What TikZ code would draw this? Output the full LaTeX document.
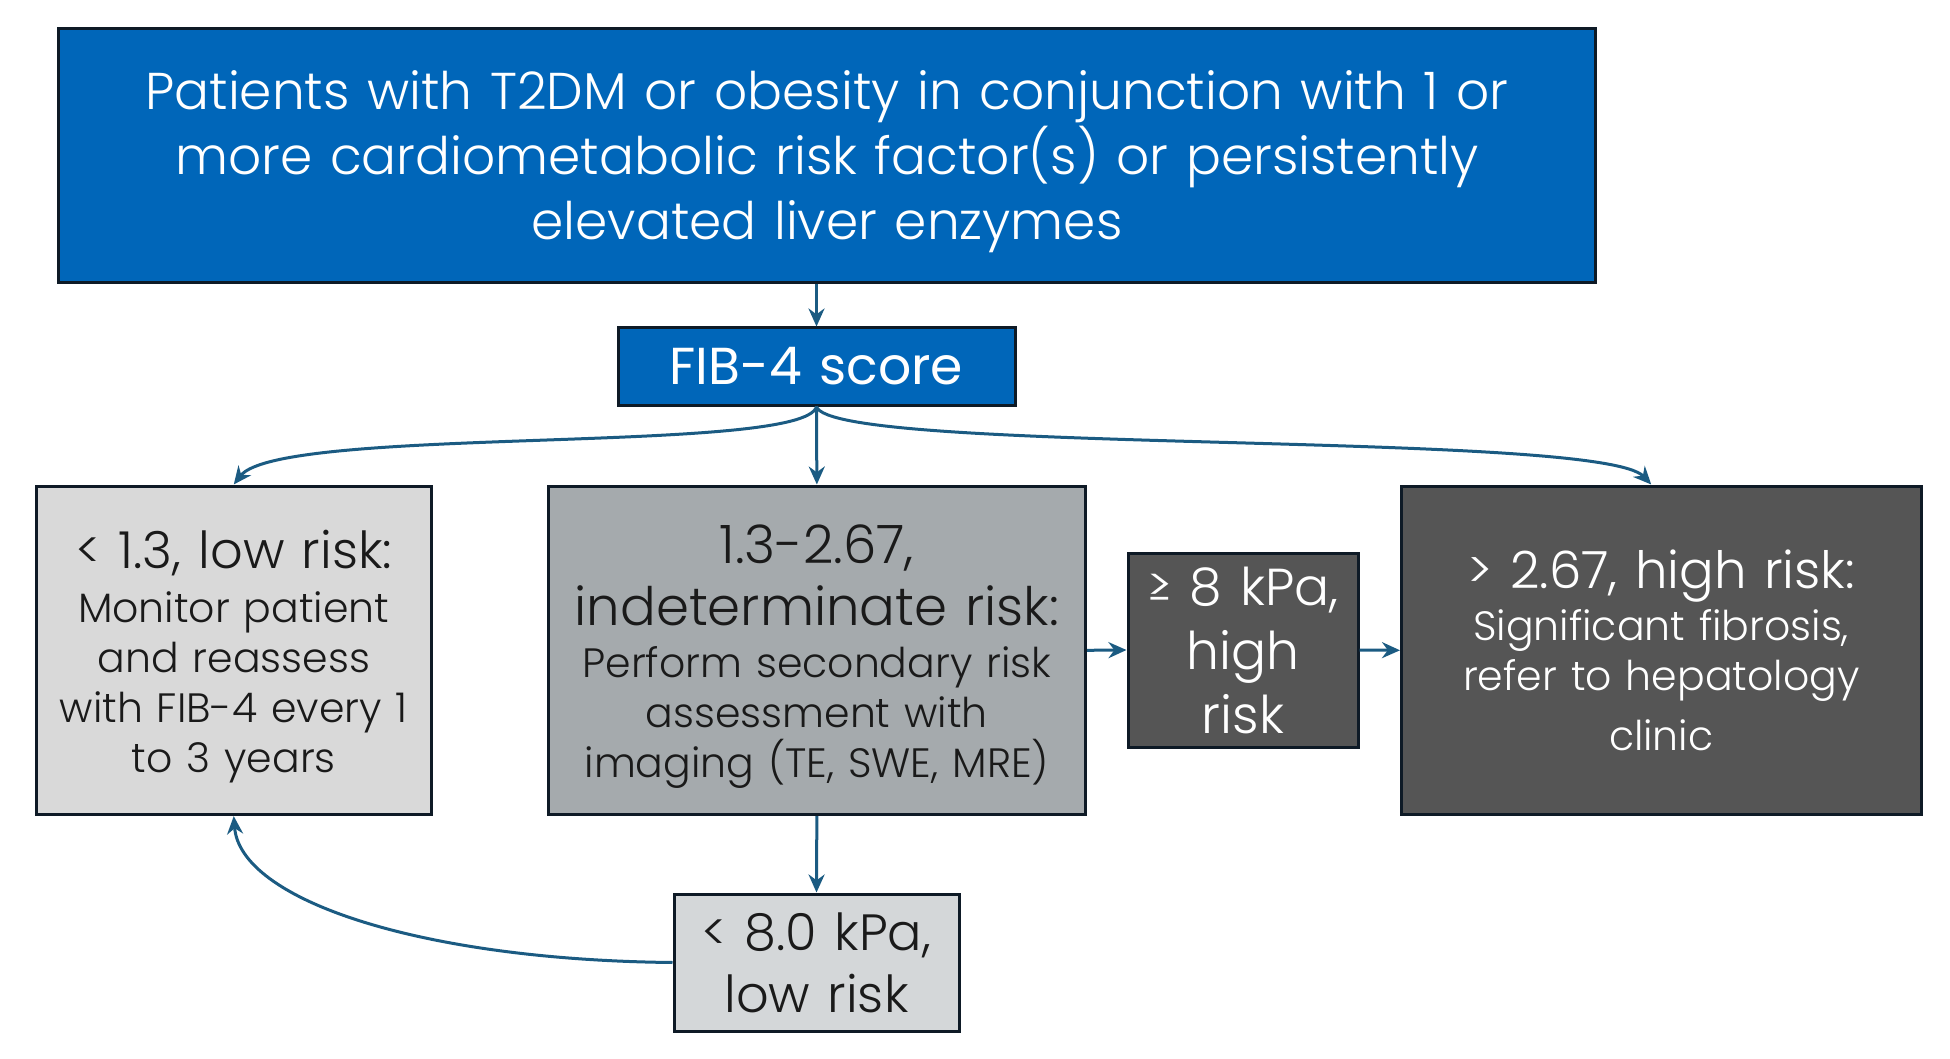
\documentclass[tikz,border=0pt]{standalone}
\usepackage{fontspec}
\IfFontExistsTF{Poppins Light}{\setmainfont{Poppins Light}\newfontfamily\fibfont{Poppins}}{\setmainfont{Poppins}\newfontfamily\fibfont{Poppins}}
\usetikzlibrary{arrows.meta}
\definecolor{topblue}{HTML}{0066B9}
\definecolor{arrowc}{HTML}{1B5B82}
\definecolor{lightg}{HTML}{D9D9D9}
\definecolor{midg}{HTML}{A5AAAD}
\definecolor{botg}{HTML}{D4D7D9}
\definecolor{darkg}{HTML}{555555}
\definecolor{edgec}{HTML}{0E1A26}
\definecolor{txtc}{HTML}{1A1A1A}
\newcommand{\txl}[3]{{\fontsize{#1}{#2}\selectfont\spaceskip=0.34em\relax #3\par}}
\begin{document}
\begin{tikzpicture}[x=0.5pt,y=-0.5pt,
  box/.style={draw=edgec, line width=1.5pt, inner sep=0pt, align=flush center},
  conn/.style={draw=arrowc, line width=1.5pt, -{Stealth[length=9pt,width=8pt]}}]
\useasboundingbox (0,0) rectangle (1950,1059);
\node[box, fill=topblue, text=white, minimum width=768.5pt, minimum height=127pt, text width=760pt] (top) at (827,155.5)
  {\txl{25.9}{32.5}{Patients with T2DM or obesity in conjunction with 1 or\\ more cardiometabolic risk factor(s) or persistently\\ elevated liver enzymes}\vspace{-6pt}};
\node[box, fill=topblue, text=white, minimum width=198.5pt, minimum height=38.5pt, text width=195pt] (fib) at (816.5,366.5)
  {\fibfont\txl{26}{30}{FIB-4 score}};
\node[box, fill=lightg, text=txtc, minimum width=197.75pt, minimum height=164.3pt, text width=195pt] (left) at (233.75,650.3)
  {\txl{25.5}{29}{< 1.3, low risk:}\vspace{2pt}\txl{20.5}{25}{Monitor patient\\ and reassess\\ with FIB-4 every 1\\ to 3 years}\vspace{-6pt}};
\node[box, fill=midg, text=txtc, minimum width=268.85pt, minimum height=164.3pt, text width=265pt] (mid) at (816.85,650.3)
  {\txl{26.5}{31}{1.3-2.67,\\ indeterminate risk:}\vspace{1pt}\txl{20.5}{25}{Perform secondary risk\\ assessment with\\ imaging (TE, SWE, MRE)}\vspace{-6pt}};
\node[box, fill=darkg, text=white, minimum width=115pt, minimum height=97pt, text width=112pt] (k8) at (1243,650)
  {\txl{26}{32}{≥ 8 kPa,\\ high\\ risk}};
\node[box, fill=darkg, text=white, minimum width=259.75pt, minimum height=164.3pt, text width=255pt] (right) at (1661.25,650.3)
  {\txl{25.7}{29}{> 2.67, high risk:}\vspace{1pt}\txl{20.5}{25}{Significant fibrosis,\\ refer to hepatology\\[5pt] clinic}};
\node[box, fill=botg, text=txtc, minimum width=142.5pt, minimum height=68.5pt, text width=140pt] (bot) at (816.5,962.5)
  {\txl{25.5}{31}{< 8.0 kPa,\\ low risk}};
\draw[conn] (fib.north |- top.south) -- (fib.north);
\draw[conn] (fib.south) -- (mid.north);
\draw[conn] (fib.south) .. controls (805,455) and (280,425) .. (left.north);
\draw[conn] (fib.south) .. controls (830,455) and (1600,430) .. ([xshift=-5pt]right.north);
\draw[conn] (mid.east) -- (k8.west);
\draw[conn] (k8.east) -- (right.west);
\draw[conn] (mid.south) -- (bot.north);
\draw[conn] (bot.west) .. controls (420,960) and (240,900) .. (left.south);
\end{tikzpicture}
\end{document}
